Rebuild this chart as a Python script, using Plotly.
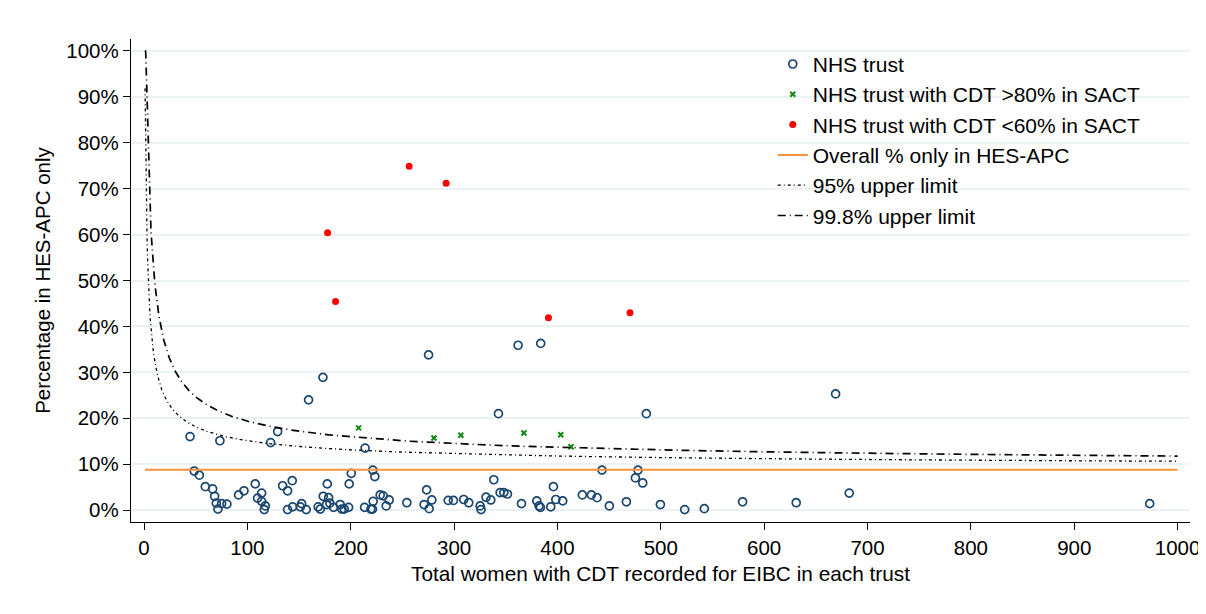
import numpy as np
from plotly import graph_objects as go


# trusts (all), x = women with CDT, y = % only in HES-APC
trust_n = [44.5, 48.6, 53.5, 59.3, 66.4, 68.3, 69.9, 71.5, 73.4, 75.1, 80.2, 91.5, 96.7,
           107.6, 109.9, 113.8, 113.8, 117.3, 116.3, 122.5, 129.3, 134.1, 138.9, 143.4,
           138.9, 143.8, 152.5, 151.2, 156.9, 159.2, 168.5, 170.5, 173.4, 177.3, 178.6,
           176.6, 179.8, 183.4, 189.8, 191.4, 193.7, 198.5, 200.5, 197.9, 213.9, 213.4,
           219.5, 221.4, 223.3, 221.7, 228.5, 173.1, 275.3, 342.9, 361.9, 383.8, 486.0,
           221.0, 231.4, 234.3, 237.2, 254.3, 271.0, 273.4, 275.9, 278.5, 294.3, 299.4,
           309.3, 314.2, 325.2, 326.1, 330.9, 335.5, 338.4, 344.5, 348.1, 351.6, 365.2,
           380.0, 382.2, 383.5, 393.5, 396.1, 398.4, 405.1, 424.1, 432.8, 438.3, 443.1,
           450.2, 466.7, 475.4, 477.9, 482.5, 499.6, 523.1, 542.1, 579.1, 631.0, 669.1,
           682.3, 973.0]
trust_pct = [16.0, 8.5, 7.6, 5.1, 4.6, 3.0, 1.5, 0.2, 15.1, 1.4, 1.3, 3.3, 4.2,
             5.7, 2.6, 3.7, 1.9, 0.9, 0.1, 14.7, 17.1, 5.3, 4.2, 6.4,
             0.1, 0.7, 1.4, 0.7, 0.1, 24.0, 0.7, 0.2, 3.0, 5.7, 2.7,
             1.2, 1.5, 0.6, 1.2, 0.2, 0.2, 5.7, 8.0, 0.6, 13.5, 0.6,
             0.2, 8.7, 7.3, 1.9, 3.3, 28.9, 33.8, 21.0, 35.9, 36.3, 21.0,
             0.2, 3.1, 0.9, 2.2, 1.6, 1.2, 4.4, 0.3, 2.2, 2.1, 2.1,
             2.3, 1.6, 0.9, 0.1, 2.8, 2.2, 6.6, 3.8, 3.8, 3.5, 1.4,
             2.0, 0.9, 0.6, 0.7, 5.1, 2.3, 2.0, 3.3, 3.3, 2.7, 8.7,
             0.9, 1.8, 7.0, 8.7, 5.9, 1.2, 0.1, 0.3, 1.8, 1.6, 25.3,
             3.7, 1.4]

# trusts with CDT >80% in SACT
high_n = [207.6, 280.5, 306.5, 367.5, 403.2, 413.1]
high_pct = [17.9, 15.7, 16.3, 16.8, 16.4, 13.8]

# trusts with CDT <60% in SACT
low_n = [177.6, 185.3, 256.5, 292.3, 391.3, 470.2]
low_pct = [60.4, 45.4, 74.9, 71.2, 41.9, 43.0]

overall_pct = 8.8
z95 = 1.96
z998 = 3.09
n_min, n_max = 1, 1000

x_ticks = list(range(0, 1001, 100))
y_ticks = list(range(0, 101, 10))
y_labels = [f"{v}%" for v in y_ticks]

FONT = "Arial, Liberation Sans, sans-serif"

# funnel limits (arcsine-sqrt scale)
n_grid = np.linspace(n_min, n_max, 3000)
p0 = overall_pct / 100


def upper_limit(z):
    a = np.arcsin(np.sqrt(p0)) + z / (2 * np.sqrt(n_grid))
    a = np.minimum(a, np.pi / 2)
    return np.sin(a) ** 2 * 100


fig = go.Figure()

fig.add_trace(go.Scatter(
    x=trust_n, y=trust_pct, mode="markers", name="NHS trust",
    marker=dict(symbol="circle-open", size=8, color="#1a476f", line=dict(width=1.7)),
))
fig.add_trace(go.Scatter(
    x=high_n, y=high_pct, mode="markers", name="NHS trust with CDT >80% in SACT",
    marker=dict(symbol="x-thin-open", size=5, color="#118a11", line=dict(width=2, color="#118a11")),
))
fig.add_trace(go.Scatter(
    x=low_n, y=low_pct, mode="markers", name="NHS trust with CDT <60% in SACT",
    marker=dict(symbol="circle", size=7, color="#ff0000"),
))
fig.add_trace(go.Scatter(
    x=[n_min, n_max], y=[overall_pct, overall_pct], mode="lines",
    name="Overall % only in HES-APC", line=dict(color="#f7923a", width=2),
))
fig.add_trace(go.Scatter(
    x=n_grid, y=upper_limit(z95), mode="lines", name="95% upper limit",
    line=dict(color="black", width=1.3, dash="3px,3px,1px,3px"),
))
fig.add_trace(go.Scatter(
    x=n_grid, y=upper_limit(z998), mode="lines", name="99.8% upper limit",
    line=dict(color="black", width=1.7, dash="8px,4px,1px,4px"),
))

fig.update_layout(
    width=1206,
    height=614,
    paper_bgcolor="white",
    plot_bgcolor="white",
    font=dict(family=FONT, size=18, color="black"),
    margin=dict(l=123, r=24, t=31, b=100),
    showlegend=True,
    legend=dict(
        x=0.606, y=0.99, xanchor="left", yanchor="top",
        bgcolor="rgba(0,0,0,0)", font=dict(size=21, family=FONT),
        itemwidth=30, tracegroupgap=0,
    ),
    xaxis=dict(
        range=[-12.6, 1012], tickvals=x_ticks, ticks="outside", ticklen=7,
        tickcolor="black", showline=True, linecolor="black", linewidth=1.3,
        showgrid=False, zeroline=False, automargin=False,
        tickfont=dict(size=20.5),
        title=dict(text="Total women with CDT recorded for EIBC in each trust",
                   font=dict(size=20.8, family=FONT), standoff=8),
    ),
    yaxis=dict(
        range=[-2.6, 102.6], tickvals=y_ticks, ticktext=y_labels, ticks="outside", ticklen=7,
        tickcolor="black", showline=True, linecolor="black", linewidth=1.3,
        showgrid=True, gridcolor="#eaf2f3", gridwidth=1.5, zeroline=False, automargin=False,
        tickfont=dict(size=20.5),
        title=dict(text="Percentage in HES-APC only", font=dict(size=20.5, family=FONT), standoff=10),
    ),
)

fig.write_html("out.html")
